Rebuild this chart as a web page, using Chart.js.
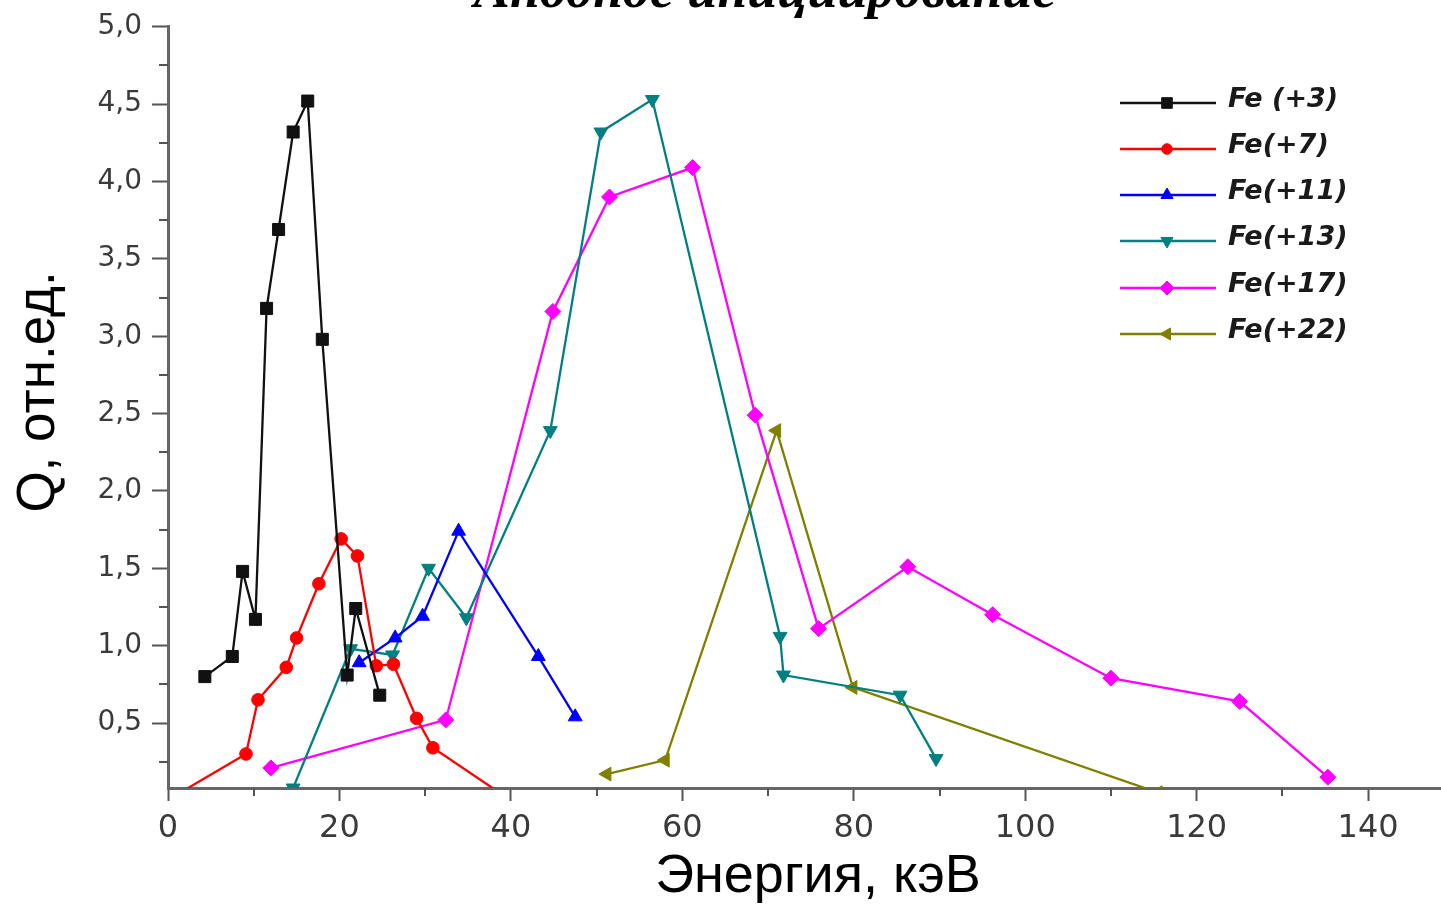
<!DOCTYPE html>
<html>
<head>
<meta charset="utf-8">
<script src="https://cdn.jsdelivr.net/npm/chart.js@4/dist/chart.umd.min.js"></script>
<style>
  html, body { margin: 0; padding: 0; background: #fff; }
  #chart { display: block; }
</style>
</head>
<body>
<canvas id="chart" width="1441" height="905"></canvas>
<script>
// Данные (энергия, кэВ / Q, отн.ед.)
const fe3Energy = [4.3, 7.5, 8.7, 10.2, 11.5, 12.9, 14.6, 16.3, 18.0, 20.9, 21.9, 24.7];
const fe3Q = [0.80, 0.93, 1.48, 1.17, 3.18, 3.69, 4.32, 4.52, 2.98, 0.81, 1.24, 0.68];

const fe7Energy = [0.5, 9.1, 10.5, 13.8, 15.0, 17.6, 20.2, 22.1, 24.3, 26.3, 29.0, 30.9, 40.0];
const fe7Q = [0.02, 0.30, 0.65, 0.86, 1.05, 1.40, 1.69, 1.58, 0.87, 0.88, 0.53, 0.34, 0.0];

const fe11Energy = [22.3, 26.5, 29.7, 33.9, 43.2, 47.5];
const fe11Q = [0.89, 1.05, 1.19, 1.74, 0.93, 0.54];

const fe13Energy = [14.6, 21.3, 26.2, 30.4, 34.8, 44.6, 50.5, 56.5, 71.4, 71.8, 85.4, 89.6];
const fe13Q = [0.08, 0.98, 0.94, 1.50, 1.18, 2.39, 4.32, 4.53, 1.06, 0.81, 0.68, 0.27];

const fe17Energy = [12.0, 32.4, 44.9, 51.5, 61.2, 68.5, 75.9, 86.3, 96.2, 110.0, 125.0, 135.3];
const fe17Q = [0.21, 0.52, 3.16, 3.90, 4.09, 2.49, 1.11, 1.51, 1.20, 0.79, 0.64, 0.15];

const fe22Energy = [51.2, 58.0, 71.0, 79.9, 115.5];
const fe22Q = [0.17, 0.26, 2.39, 0.73, 0.05];

const seriesLabels = ["Fe (+3)", "Fe(+7)", "Fe(+11)", "Fe(+13)", "Fe(+17)", "Fe(+22)"];

// оси
const xMin = 0, xMax = 148.5, xStep = 10, xLabelStep = 20;
const yMin = 0.08, yMax = 5.0, yStep = 0.25, yLabelStep = 0.5;

function toPoints(xs, ys) {
  return xs.map((x, i) => ({ x: x, y: ys[i] }));
}

function makeSet(label, xs, ys, color, style, rotation, radius) {
  return {
    label: label,
    data: toPoints(xs, ys),
    borderColor: color,
    backgroundColor: color,
    pointBackgroundColor: color,
    pointBorderColor: color,
    borderWidth: 2.3,
    pointStyle: style,
    pointRotation: rotation,
    pointRadius: radius,
    pointHoverRadius: radius,
    pointBorderWidth: 1,
    tension: 0,
    fill: false,
    clip: { left: 0, top: 10, right: 0, bottom: 0 }
  };
}

const datasets = [
  makeSet(seriesLabels[0], fe3Energy, fe3Q, "#111111", "rect", 0, 8.5),
  makeSet(seriesLabels[1], fe7Energy, fe7Q, "#ff0000", "circle", 0, 6.3),
  makeSet(seriesLabels[2], fe11Energy, fe11Q, "#0000ff", "triangle", 0, 8),
  makeSet(seriesLabels[3], fe13Energy, fe13Q, "#008080", "triangle", 180, 8),
  makeSet(seriesLabels[4], fe17Energy, fe17Q, "#ff00ff", "rectRot", 0, 8),
  makeSet(seriesLabels[5], fe22Energy, fe22Q, "#808000", "triangle", 270, 8)
];

function isMultiple(v, step) {
  return Math.abs(v / step - Math.round(v / step)) < 1e-6;
}

// заголовки: верхний (обрезан краем, как в оригинале) и подписи осей
const titlePlugin = {
  id: "titles",
  afterDraw(chart) {
    const ctx = chart.ctx;
    ctx.save();
    ctx.fillStyle = "#000";
    ctx.textAlign = "center";
    ctx.textBaseline = "alphabetic";
    ctx.font = 'italic bold 54px "Liberation Serif"';
    ctx.fillText("Анодное инициирование", 765, 7);

    ctx.textBaseline = "middle";
    ctx.font = '54px "Liberation Sans"';
    ctx.fillText("Энергия, кэВ", 818, 877);

    ctx.translate(39, 392);
    ctx.rotate(-Math.PI / 2);
    ctx.font = '53px "Liberation Sans"';
    ctx.fillText("Q, отн.ед.", 0, 0);
    ctx.restore();
  }
};

// короткие промежуточные риски
const minorTicks = {
  id: "minorTicks",
  afterDraw(chart) {
    const ctx = chart.ctx;
    const xs = chart.scales.x, ys = chart.scales.y;
    ctx.save();
    ctx.strokeStyle = "#555";
    ctx.lineWidth = 2;
    xs.ticks.forEach(t => {
      if (isMultiple(t.value, xLabelStep)) return;
      const px = Math.round(xs.getPixelForValue(t.value));
      ctx.beginPath();
      ctx.moveTo(px, xs.top);
      ctx.lineTo(px, xs.top + 8);
      ctx.stroke();
    });
    ys.ticks.forEach(t => {
      if (isMultiple(t.value, yLabelStep)) return;
      const py = Math.round(ys.getPixelForValue(t.value));
      ctx.beginPath();
      ctx.moveTo(ys.right - 9, py);
      ctx.lineTo(ys.right, py);
      ctx.stroke();
    });
    ctx.restore();
  }
};

// легенда внутри поля графика
const legendRows = [103, 149, 195, 241, 288, 334];
const insideLegend = {
  id: "insideLegend",
  afterDraw(chart) {
    const ctx = chart.ctx;
    ctx.save();
    chart.data.datasets.forEach((ds, i) => {
      const y = legendRows[i];
      ctx.strokeStyle = ds.borderColor;
      ctx.lineWidth = ds.borderWidth;
      ctx.beginPath();
      ctx.moveTo(1120, y);
      ctx.lineTo(1216, y);
      ctx.stroke();
      ctx.fillStyle = ds.pointBackgroundColor;
      ctx.strokeStyle = ds.pointBorderColor;
      ctx.lineWidth = 1;
      Chart.helpers.drawPoint(ctx, {
        pointStyle: ds.pointStyle,
        rotation: ds.pointRotation,
        radius: ds.pointRadius - 1,
        borderWidth: 1
      }, 1167, y);
      ctx.fillStyle = "#1a1a1a";
      ctx.font = 'italic bold 27px "DejaVu Sans"';
      ctx.textAlign = "left";
      ctx.textBaseline = "middle";
      ctx.fillText(ds.label, 1228, y - 3);
    });
    ctx.restore();
  }
};

const ctx = document.getElementById("chart").getContext("2d");

new Chart(ctx, {
  type: "line",
  data: { datasets: datasets },
  options: {
    responsive: false,
    animation: false,
    events: [],
    layout: { autoPadding: false, padding: { top: 24, right: 0, bottom: 0, left: 0 } },
    plugins: {
      legend: { display: false },
      title: { display: false },
      tooltip: { enabled: false }
    },
    scales: {
      x: {
        type: "linear",
        min: xMin,
        max: xMax,
        afterFit: s => { s.height = 117; s.paddingLeft = 0; s.paddingRight = 0; },
        border: { display: true, color: "#666", width: 3 },
        grid: {
          drawOnChartArea: false,
          drawTicks: true,
          tickLength: 13,
          tickWidth: 2,
          tickColor: c => (c.tick && isMultiple(c.tick.value, xLabelStep)) ? "#555" : "rgba(0,0,0,0)"
        },
        ticks: {
          stepSize: xStep,
          includeBounds: false,
          autoSkip: false,
          maxRotation: 0,
          padding: 8,
          color: "#3a3a3a",
          font: { family: "DejaVu Sans", size: 32 },
          callback: v => isMultiple(v, xLabelStep) ? String(v) : ""
        },
        title: { display: false }
      },
      y: {
        type: "linear",
        min: yMin,
        max: yMax,
        afterFit: s => { s.width = 168; },
        border: { display: true, color: "#666", width: 3 },
        grid: {
          drawOnChartArea: false,
          drawTicks: true,
          tickLength: 16,
          tickWidth: 2,
          tickColor: c => (c.tick && isMultiple(c.tick.value, yLabelStep)) ? "#555" : "rgba(0,0,0,0)"
        },
        ticks: {
          stepSize: yStep,
          includeBounds: false,
          autoSkip: false,
          padding: 10,
          color: "#3a3a3a",
          font: { family: "DejaVu Sans", size: 28 },
          callback: v => isMultiple(v, yLabelStep) ? v.toFixed(1).replace(".", ",") : ""
        },
        title: { display: false }
      }
    }
  },
  plugins: [minorTicks, insideLegend, titlePlugin]
});
</script>
</body>
</html>
